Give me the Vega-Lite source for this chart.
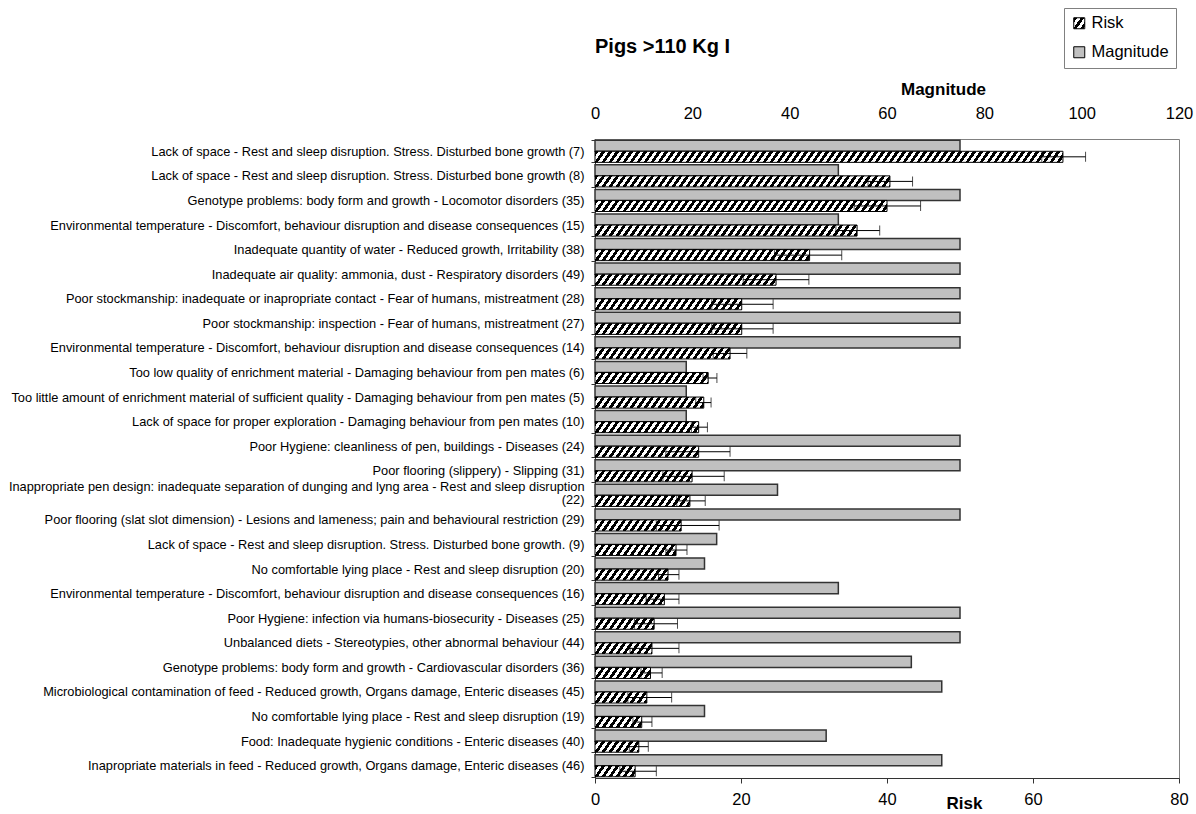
{
"$schema": "https://vega.github.io/schema/vega-lite/v6.json",
"width": 584,
"height": 639,
"autosize": "none",
"padding": {"left": 595, "top": 139, "right": 17, "bottom": 36},
"background": "#ffffff",
"params": [{"name": "hatchStops", "value": [
{"offset":0,"color":"#000"},{"offset":0.00625,"color":"#000"},{"offset":0.00625,"color":"#fff"},{"offset":0.0125,"color":"#fff"},
{"offset":0.0125,"color":"#000"},{"offset":0.01875,"color":"#000"},{"offset":0.01875,"color":"#fff"},{"offset":0.025,"color":"#fff"},
{"offset":0.025,"color":"#000"},{"offset":0.03125,"color":"#000"},{"offset":0.03125,"color":"#fff"},{"offset":0.0375,"color":"#fff"},
{"offset":0.0375,"color":"#000"},{"offset":0.04375,"color":"#000"},{"offset":0.04375,"color":"#fff"},{"offset":0.05,"color":"#fff"},
{"offset":0.05,"color":"#000"},{"offset":0.05625,"color":"#000"},{"offset":0.05625,"color":"#fff"},{"offset":0.0625,"color":"#fff"},
{"offset":0.0625,"color":"#000"},{"offset":0.06875,"color":"#000"},{"offset":0.06875,"color":"#fff"},{"offset":0.075,"color":"#fff"},
{"offset":0.075,"color":"#000"},{"offset":0.08125,"color":"#000"},{"offset":0.08125,"color":"#fff"},{"offset":0.0875,"color":"#fff"},
{"offset":0.0875,"color":"#000"},{"offset":0.09375,"color":"#000"},{"offset":0.09375,"color":"#fff"},{"offset":0.1,"color":"#fff"},
{"offset":0.1,"color":"#000"},{"offset":0.10625,"color":"#000"},{"offset":0.10625,"color":"#fff"},{"offset":0.1125,"color":"#fff"},
{"offset":0.1125,"color":"#000"},{"offset":0.11875,"color":"#000"},{"offset":0.11875,"color":"#fff"},{"offset":0.125,"color":"#fff"},
{"offset":0.125,"color":"#000"},{"offset":0.13125,"color":"#000"},{"offset":0.13125,"color":"#fff"},{"offset":0.1375,"color":"#fff"},
{"offset":0.1375,"color":"#000"},{"offset":0.14375,"color":"#000"},{"offset":0.14375,"color":"#fff"},{"offset":0.15,"color":"#fff"},
{"offset":0.15,"color":"#000"},{"offset":0.15625,"color":"#000"},{"offset":0.15625,"color":"#fff"},{"offset":0.1625,"color":"#fff"},
{"offset":0.1625,"color":"#000"},{"offset":0.16875,"color":"#000"},{"offset":0.16875,"color":"#fff"},{"offset":0.175,"color":"#fff"},
{"offset":0.175,"color":"#000"},{"offset":0.18125,"color":"#000"},{"offset":0.18125,"color":"#fff"},{"offset":0.1875,"color":"#fff"},
{"offset":0.1875,"color":"#000"},{"offset":0.19375,"color":"#000"},{"offset":0.19375,"color":"#fff"},{"offset":0.2,"color":"#fff"},
{"offset":0.2,"color":"#000"},{"offset":0.20625,"color":"#000"},{"offset":0.20625,"color":"#fff"},{"offset":0.2125,"color":"#fff"},
{"offset":0.2125,"color":"#000"},{"offset":0.21875,"color":"#000"},{"offset":0.21875,"color":"#fff"},{"offset":0.225,"color":"#fff"},
{"offset":0.225,"color":"#000"},{"offset":0.23125,"color":"#000"},{"offset":0.23125,"color":"#fff"},{"offset":0.2375,"color":"#fff"},
{"offset":0.2375,"color":"#000"},{"offset":0.24375,"color":"#000"},{"offset":0.24375,"color":"#fff"},{"offset":0.25,"color":"#fff"},
{"offset":0.25,"color":"#000"},{"offset":0.25625,"color":"#000"},{"offset":0.25625,"color":"#fff"},{"offset":0.2625,"color":"#fff"},
{"offset":0.2625,"color":"#000"},{"offset":0.26875,"color":"#000"},{"offset":0.26875,"color":"#fff"},{"offset":0.275,"color":"#fff"},
{"offset":0.275,"color":"#000"},{"offset":0.28125,"color":"#000"},{"offset":0.28125,"color":"#fff"},{"offset":0.2875,"color":"#fff"},
{"offset":0.2875,"color":"#000"},{"offset":0.29375,"color":"#000"},{"offset":0.29375,"color":"#fff"},{"offset":0.3,"color":"#fff"},
{"offset":0.3,"color":"#000"},{"offset":0.30625,"color":"#000"},{"offset":0.30625,"color":"#fff"},{"offset":0.3125,"color":"#fff"},
{"offset":0.3125,"color":"#000"},{"offset":0.31875,"color":"#000"},{"offset":0.31875,"color":"#fff"},{"offset":0.325,"color":"#fff"},
{"offset":0.325,"color":"#000"},{"offset":0.33125,"color":"#000"},{"offset":0.33125,"color":"#fff"},{"offset":0.3375,"color":"#fff"},
{"offset":0.3375,"color":"#000"},{"offset":0.34375,"color":"#000"},{"offset":0.34375,"color":"#fff"},{"offset":0.35,"color":"#fff"},
{"offset":0.35,"color":"#000"},{"offset":0.35625,"color":"#000"},{"offset":0.35625,"color":"#fff"},{"offset":0.3625,"color":"#fff"},
{"offset":0.3625,"color":"#000"},{"offset":0.36875,"color":"#000"},{"offset":0.36875,"color":"#fff"},{"offset":0.375,"color":"#fff"},
{"offset":0.375,"color":"#000"},{"offset":0.38125,"color":"#000"},{"offset":0.38125,"color":"#fff"},{"offset":0.3875,"color":"#fff"},
{"offset":0.3875,"color":"#000"},{"offset":0.39375,"color":"#000"},{"offset":0.39375,"color":"#fff"},{"offset":0.4,"color":"#fff"},
{"offset":0.4,"color":"#000"},{"offset":0.40625,"color":"#000"},{"offset":0.40625,"color":"#fff"},{"offset":0.4125,"color":"#fff"},
{"offset":0.4125,"color":"#000"},{"offset":0.41875,"color":"#000"},{"offset":0.41875,"color":"#fff"},{"offset":0.425,"color":"#fff"},
{"offset":0.425,"color":"#000"},{"offset":0.43125,"color":"#000"},{"offset":0.43125,"color":"#fff"},{"offset":0.4375,"color":"#fff"},
{"offset":0.4375,"color":"#000"},{"offset":0.44375,"color":"#000"},{"offset":0.44375,"color":"#fff"},{"offset":0.45,"color":"#fff"},
{"offset":0.45,"color":"#000"},{"offset":0.45625,"color":"#000"},{"offset":0.45625,"color":"#fff"},{"offset":0.4625,"color":"#fff"},
{"offset":0.4625,"color":"#000"},{"offset":0.46875,"color":"#000"},{"offset":0.46875,"color":"#fff"},{"offset":0.475,"color":"#fff"},
{"offset":0.475,"color":"#000"},{"offset":0.48125,"color":"#000"},{"offset":0.48125,"color":"#fff"},{"offset":0.4875,"color":"#fff"},
{"offset":0.4875,"color":"#000"},{"offset":0.49375,"color":"#000"},{"offset":0.49375,"color":"#fff"},{"offset":0.5,"color":"#fff"},
{"offset":0.5,"color":"#000"},{"offset":0.50625,"color":"#000"},{"offset":0.50625,"color":"#fff"},{"offset":0.5125,"color":"#fff"},
{"offset":0.5125,"color":"#000"},{"offset":0.51875,"color":"#000"},{"offset":0.51875,"color":"#fff"},{"offset":0.525,"color":"#fff"},
{"offset":0.525,"color":"#000"},{"offset":0.53125,"color":"#000"},{"offset":0.53125,"color":"#fff"},{"offset":0.5375,"color":"#fff"},
{"offset":0.5375,"color":"#000"},{"offset":0.54375,"color":"#000"},{"offset":0.54375,"color":"#fff"},{"offset":0.55,"color":"#fff"},
{"offset":0.55,"color":"#000"},{"offset":0.55625,"color":"#000"},{"offset":0.55625,"color":"#fff"},{"offset":0.5625,"color":"#fff"},
{"offset":0.5625,"color":"#000"},{"offset":0.56875,"color":"#000"},{"offset":0.56875,"color":"#fff"},{"offset":0.575,"color":"#fff"},
{"offset":0.575,"color":"#000"},{"offset":0.58125,"color":"#000"},{"offset":0.58125,"color":"#fff"},{"offset":0.5875,"color":"#fff"},
{"offset":0.5875,"color":"#000"},{"offset":0.59375,"color":"#000"},{"offset":0.59375,"color":"#fff"},{"offset":0.6,"color":"#fff"},
{"offset":0.6,"color":"#000"},{"offset":0.60625,"color":"#000"},{"offset":0.60625,"color":"#fff"},{"offset":0.6125,"color":"#fff"},
{"offset":0.6125,"color":"#000"},{"offset":0.61875,"color":"#000"},{"offset":0.61875,"color":"#fff"},{"offset":0.625,"color":"#fff"},
{"offset":0.625,"color":"#000"},{"offset":0.63125,"color":"#000"},{"offset":0.63125,"color":"#fff"},{"offset":0.6375,"color":"#fff"},
{"offset":0.6375,"color":"#000"},{"offset":0.64375,"color":"#000"},{"offset":0.64375,"color":"#fff"},{"offset":0.65,"color":"#fff"},
{"offset":0.65,"color":"#000"},{"offset":0.65625,"color":"#000"},{"offset":0.65625,"color":"#fff"},{"offset":0.6625,"color":"#fff"},
{"offset":0.6625,"color":"#000"},{"offset":0.66875,"color":"#000"},{"offset":0.66875,"color":"#fff"},{"offset":0.675,"color":"#fff"},
{"offset":0.675,"color":"#000"},{"offset":0.68125,"color":"#000"},{"offset":0.68125,"color":"#fff"},{"offset":0.6875,"color":"#fff"},
{"offset":0.6875,"color":"#000"},{"offset":0.69375,"color":"#000"},{"offset":0.69375,"color":"#fff"},{"offset":0.7,"color":"#fff"},
{"offset":0.7,"color":"#000"},{"offset":0.70625,"color":"#000"},{"offset":0.70625,"color":"#fff"},{"offset":0.7125,"color":"#fff"},
{"offset":0.7125,"color":"#000"},{"offset":0.71875,"color":"#000"},{"offset":0.71875,"color":"#fff"},{"offset":0.725,"color":"#fff"},
{"offset":0.725,"color":"#000"},{"offset":0.73125,"color":"#000"},{"offset":0.73125,"color":"#fff"},{"offset":0.7375,"color":"#fff"},
{"offset":0.7375,"color":"#000"},{"offset":0.74375,"color":"#000"},{"offset":0.74375,"color":"#fff"},{"offset":0.75,"color":"#fff"},
{"offset":0.75,"color":"#000"},{"offset":0.75625,"color":"#000"},{"offset":0.75625,"color":"#fff"},{"offset":0.7625,"color":"#fff"},
{"offset":0.7625,"color":"#000"},{"offset":0.76875,"color":"#000"},{"offset":0.76875,"color":"#fff"},{"offset":0.775,"color":"#fff"},
{"offset":0.775,"color":"#000"},{"offset":0.78125,"color":"#000"},{"offset":0.78125,"color":"#fff"},{"offset":0.7875,"color":"#fff"},
{"offset":0.7875,"color":"#000"},{"offset":0.79375,"color":"#000"},{"offset":0.79375,"color":"#fff"},{"offset":0.8,"color":"#fff"},
{"offset":0.8,"color":"#000"},{"offset":0.80625,"color":"#000"},{"offset":0.80625,"color":"#fff"},{"offset":0.8125,"color":"#fff"},
{"offset":0.8125,"color":"#000"},{"offset":0.81875,"color":"#000"},{"offset":0.81875,"color":"#fff"},{"offset":0.825,"color":"#fff"},
{"offset":0.825,"color":"#000"},{"offset":0.83125,"color":"#000"},{"offset":0.83125,"color":"#fff"},{"offset":0.8375,"color":"#fff"},
{"offset":0.8375,"color":"#000"},{"offset":0.84375,"color":"#000"},{"offset":0.84375,"color":"#fff"},{"offset":0.85,"color":"#fff"},
{"offset":0.85,"color":"#000"},{"offset":0.85625,"color":"#000"},{"offset":0.85625,"color":"#fff"},{"offset":0.8625,"color":"#fff"},
{"offset":0.8625,"color":"#000"},{"offset":0.86875,"color":"#000"},{"offset":0.86875,"color":"#fff"},{"offset":0.875,"color":"#fff"},
{"offset":0.875,"color":"#000"},{"offset":0.88125,"color":"#000"},{"offset":0.88125,"color":"#fff"},{"offset":0.8875,"color":"#fff"},
{"offset":0.8875,"color":"#000"},{"offset":0.89375,"color":"#000"},{"offset":0.89375,"color":"#fff"},{"offset":0.9,"color":"#fff"},
{"offset":0.9,"color":"#000"},{"offset":0.90625,"color":"#000"},{"offset":0.90625,"color":"#fff"},{"offset":0.9125,"color":"#fff"},
{"offset":0.9125,"color":"#000"},{"offset":0.91875,"color":"#000"},{"offset":0.91875,"color":"#fff"},{"offset":0.925,"color":"#fff"},
{"offset":0.925,"color":"#000"},{"offset":0.93125,"color":"#000"},{"offset":0.93125,"color":"#fff"},{"offset":0.9375,"color":"#fff"},
{"offset":0.9375,"color":"#000"},{"offset":0.94375,"color":"#000"},{"offset":0.94375,"color":"#fff"},{"offset":0.95,"color":"#fff"},
{"offset":0.95,"color":"#000"},{"offset":0.95625,"color":"#000"},{"offset":0.95625,"color":"#fff"},{"offset":0.9625,"color":"#fff"},
{"offset":0.9625,"color":"#000"},{"offset":0.96875,"color":"#000"},{"offset":0.96875,"color":"#fff"},{"offset":0.975,"color":"#fff"},
{"offset":0.975,"color":"#000"},{"offset":0.98125,"color":"#000"},{"offset":0.98125,"color":"#fff"},{"offset":0.9875,"color":"#fff"},
{"offset":0.9875,"color":"#000"},{"offset":0.99375,"color":"#000"},{"offset":0.99375,"color":"#fff"},{"offset":1,"color":"#fff"}
]}],
"title": {"text": "Pigs >110 Kg I", "anchor": "start", "frame": "group", "fontSize": 20, "fontWeight": "bold", "font": "Liberation Sans", "color": "#000000", "offset": 20, "dy": 69},
"data": {"values": [
{"issue":"Lack of space - Rest and sleep disruption. Stress. Disturbed bone growth (7)","series":"Magnitude","value":75},
{"issue":"Lack of space - Rest and sleep disruption. Stress. Disturbed bone growth (7)","series":"Risk","value":64.1,"lower":61.2,"upper":67.2},
{"issue":"Lack of space - Rest and sleep disruption. Stress. Disturbed bone growth (8)","series":"Magnitude","value":50},
{"issue":"Lack of space - Rest and sleep disruption. Stress. Disturbed bone growth (8)","series":"Risk","value":40.4,"lower":37.4,"upper":43.5},
{"issue":"Genotype problems: body form and growth - Locomotor disorders (35)","series":"Magnitude","value":75},
{"issue":"Genotype problems: body form and growth - Locomotor disorders (35)","series":"Risk","value":40.0,"lower":35.5,"upper":44.6},
{"issue":"Environmental temperature - Discomfort, behaviour disruption and disease consequences (15)","series":"Magnitude","value":50},
{"issue":"Environmental temperature - Discomfort, behaviour disruption and disease consequences (15)","series":"Risk","value":35.9,"lower":33.0,"upper":39.0},
{"issue":"Inadequate quantity of water - Reduced growth, Irritability (38)","series":"Magnitude","value":75},
{"issue":"Inadequate quantity of water - Reduced growth, Irritability (38)","series":"Risk","value":29.4,"lower":24.6,"upper":33.8},
{"issue":"Inadequate air quality: ammonia, dust - Respiratory disorders (49)","series":"Magnitude","value":75},
{"issue":"Inadequate air quality: ammonia, dust - Respiratory disorders (49)","series":"Risk","value":24.8,"lower":20.3,"upper":29.3},
{"issue":"Poor stockmanship: inadequate or inapropriate contact - Fear of humans, mistreatment (28)","series":"Magnitude","value":75},
{"issue":"Poor stockmanship: inadequate or inapropriate contact - Fear of humans, mistreatment (28)","series":"Risk","value":20.1,"lower":16.0,"upper":24.4},
{"issue":"Poor stockmanship: inspection - Fear of humans, mistreatment (27)","series":"Magnitude","value":75},
{"issue":"Poor stockmanship: inspection - Fear of humans, mistreatment (27)","series":"Risk","value":20.1,"lower":16.0,"upper":24.4},
{"issue":"Environmental temperature - Discomfort, behaviour disruption and disease consequences (14)","series":"Magnitude","value":75},
{"issue":"Environmental temperature - Discomfort, behaviour disruption and disease consequences (14)","series":"Risk","value":18.5,"lower":16.2,"upper":20.8},
{"issue":"Too low quality of enrichment material - Damaging behaviour from pen mates (6)","series":"Magnitude","value":18.75},
{"issue":"Too low quality of enrichment material - Damaging behaviour from pen mates (6)","series":"Risk","value":15.5,"lower":14.8,"upper":16.7},
{"issue":"Too little amount of enrichment material of sufficient quality - Damaging behaviour from pen mates (5)","series":"Magnitude","value":18.75},
{"issue":"Too little amount of enrichment material of sufficient quality - Damaging behaviour from pen mates (5)","series":"Risk","value":14.9,"lower":13.8,"upper":15.9},
{"issue":"Lack of space for proper exploration - Damaging behaviour from pen mates (10)","series":"Magnitude","value":18.75},
{"issue":"Lack of space for proper exploration - Damaging behaviour from pen mates (10)","series":"Risk","value":14.2,"lower":13.2,"upper":15.4},
{"issue":"Poor Hygiene: cleanliness of pen, buildings - Diseases  (24)","series":"Magnitude","value":75},
{"issue":"Poor Hygiene: cleanliness of pen, buildings - Diseases  (24)","series":"Risk","value":14.2,"lower":9.7,"upper":18.5},
{"issue":"Poor flooring (slippery) - Slipping (31)","series":"Magnitude","value":75},
{"issue":"Poor flooring (slippery) - Slipping (31)","series":"Risk","value":13.3,"lower":9.3,"upper":17.7},
{"issue":"Inappropriate pen design: inadequate separation of dunging and lyng area - Rest and sleep disruption (22)","series":"Magnitude","value":37.5},
{"issue":"Inappropriate pen design: inadequate separation of dunging and lyng area - Rest and sleep disruption (22)","series":"Risk","value":13.0,"lower":11.2,"upper":15.1},
{"issue":"Poor flooring (slat slot dimension) - Lesions and lameness; pain and behavioural restriction (29)","series":"Magnitude","value":75},
{"issue":"Poor flooring (slat slot dimension) - Lesions and lameness; pain and behavioural restriction (29)","series":"Risk","value":11.8,"lower":8.4,"upper":17.0},
{"issue":"Lack of space - Rest and sleep disruption. Stress. Disturbed bone growth. (9)","series":"Magnitude","value":25},
{"issue":"Lack of space - Rest and sleep disruption. Stress. Disturbed bone growth. (9)","series":"Risk","value":11.1,"lower":9.7,"upper":12.6},
{"issue":"No comfortable lying place - Rest and sleep disruption (20)","series":"Magnitude","value":22.5},
{"issue":"No comfortable lying place - Rest and sleep disruption (20)","series":"Risk","value":10.0,"lower":8.7,"upper":11.5},
{"issue":"Environmental temperature - Discomfort, behaviour disruption and disease consequences (16)","series":"Magnitude","value":50},
{"issue":"Environmental temperature - Discomfort, behaviour disruption and disease consequences (16)","series":"Risk","value":9.5,"lower":7.0,"upper":11.5},
{"issue":"Poor Hygiene: infection via humans-biosecurity - Diseases  (25)","series":"Magnitude","value":75},
{"issue":"Poor Hygiene: infection via humans-biosecurity - Diseases  (25)","series":"Risk","value":8.1,"lower":5.4,"upper":11.3},
{"issue":"Unbalanced diets - Stereotypies, other abnormal behaviour (44)","series":"Magnitude","value":75},
{"issue":"Unbalanced diets - Stereotypies, other abnormal behaviour (44)","series":"Risk","value":7.8,"lower":4.8,"upper":11.5},
{"issue":"Genotype problems: body form and growth - Cardiovascular disorders (36)","series":"Magnitude","value":65},
{"issue":"Genotype problems: body form and growth - Cardiovascular disorders (36)","series":"Risk","value":7.6,"lower":6.3,"upper":9.2},
{"issue":"Microbiological contamination of feed - Reduced growth, Organs damage, Enteric diseases (45)","series":"Magnitude","value":71.25},
{"issue":"Microbiological contamination of feed - Reduced growth, Organs damage, Enteric diseases (45)","series":"Risk","value":7.1,"lower":4.5,"upper":10.5},
{"issue":"No comfortable lying place - Rest and sleep disruption (19)","series":"Magnitude","value":22.5},
{"issue":"No comfortable lying place - Rest and sleep disruption (19)","series":"Risk","value":6.4,"lower":5.2,"upper":7.8},
{"issue":"Food: Inadequate hygienic conditions - Enteric diseases (40)","series":"Magnitude","value":47.5},
{"issue":"Food: Inadequate hygienic conditions - Enteric diseases (40)","series":"Risk","value":6.0,"lower":4.7,"upper":7.3},
{"issue":"Inapropriate materials in feed - Reduced growth, Organs damage, Enteric diseases (46)","series":"Magnitude","value":71.25},
{"issue":"Inapropriate materials in feed - Reduced growth, Organs damage, Enteric diseases (46)","series":"Risk","value":5.5,"lower":3.4,"upper":8.4}
]},
"encoding": {
  "y": {"field": "issue", "type": "nominal", "sort": null,
        "scale": {"paddingInner": 0.1, "paddingOuter": 0.05},
        "axis": {"title": null, "labelFontSize": 12.8, "labelFont": "Liberation Sans", "labelColor": "#000000", "labelLimit": 1000, "labelPadding": 7, "tickBand": "extent", "tickSize": 4, "tickColor": "#333333", "domainColor": "#333333", "labelLineHeight": 13,
                 "labelOffset": {"condition": {"test": "indexof(datum.label, '(22)') >= 0", "value": -9}, "value": 0},
                 "labelExpr": "indexof(datum.label, '(22)') >= 0 ? [replace(datum.label, ' (22)', ''), '(22)'] : datum.label"}},
  "yOffset": {"field": "series", "type": "nominal", "scale": {"domain": ["Magnitude", "Risk"], "paddingInner": 0, "paddingOuter": 0}}
},
"layer": [
  {"transform": [{"filter": "datum.series == 'Magnitude'"}],
   "mark": {"type": "bar", "stroke": "#333333", "strokeWidth": 1.5},
   "encoding": {
     "x": {"field": "value", "type": "quantitative", "stack": null,
           "scale": {"domain": [0, 120], "nice": false},
           "axis": {"orient": "top", "values": [0, 20, 40, 60, 80, 100, 120], "title": "Magnitude", "titleFontSize": 17, "titleFontWeight": "bold", "titleColor": "#000000", "titleX": 348, "titleY": -50, "titleBaseline": "middle", "titleAlign": "center", "labelFontSize": 16.5, "labelColor": "#000000", "labelFlush": false, "labelPadding": 18, "ticks": false, "tickSize": 0, "domain": false, "grid": false}},
     "color": {"field": "series", "type": "nominal",
               "scale": {"domain": ["Risk", "Magnitude"], "range": [{"expr": "{gradient: 'linear', x1: 0, y1: 0, x2: 34.2, y2: 24, stops: hatchStops}"}, "#c0c0c0"]},
               "legend": {"orient": "none", "legendX": 469, "legendY": -131, "direction": "vertical", "title": null, "symbolType": "square", "symbolSize": 121, "symbolStrokeColor": "#000000", "symbolStrokeWidth": 1, "symbolOpacity": 1, "labelFontSize": 16.5, "labelFont": "Liberation Sans", "labelColor": "#000000", "labelOffset": 4, "strokeColor": "#808080", "fillColor": "#ffffff", "padding": 7, "rowPadding": 12}}
   }},
  {"transform": [{"filter": "datum.series == 'Risk'"}],
   "layer": [
     {"mark": {"type": "bar", "stroke": "#000000", "strokeWidth": 1,
               "fill": {"expr": "{gradient: 'linear', x1: 0, y1: 0, x2: 560 / (datum.value * 7.3 + 59.9 / (datum.value * 7.3)), y2: 560 / (datum.value * 7.3 + 59.9 / (datum.value * 7.3)) * 7.74 / (datum.value * 7.3), stops: hatchStops}"}},
      "encoding": {
        "x": {"field": "value", "type": "quantitative", "stack": null,
              "scale": {"domain": [0, 80], "nice": false},
              "axis": {"orient": "bottom", "values": [0, 20, 40, 60, 80], "title": "Risk", "titleFontSize": 17, "titleFontWeight": "bold", "titleColor": "#000000", "titleX": 369, "titleY": 25, "titleBaseline": "middle", "titleAlign": "center", "labelFontSize": 16.5, "labelColor": "#000000", "labelFlush": false, "labelPadding": 8, "tickSize": 5, "tickColor": "#333333", "domainColor": "#333333", "grid": false}}
      }},
     {"mark": {"type": "rule", "color": "#000000", "strokeWidth": 1},
      "encoding": {
        "x": {"field": "lower", "type": "quantitative", "scale": {"domain": [0, 80], "nice": false}},
        "x2": {"field": "upper"}
      }},
     {"mark": {"type": "tick", "color": "#000000", "thickness": 1, "size": 10},
      "encoding": {
        "x": {"field": "lower", "type": "quantitative", "scale": {"domain": [0, 80], "nice": false}}
      }},
     {"mark": {"type": "tick", "color": "#000000", "thickness": 1, "size": 10},
      "encoding": {
        "x": {"field": "upper", "type": "quantitative", "scale": {"domain": [0, 80], "nice": false}}
      }}
   ]}
],
"resolve": {"scale": {"x": "independent"}},
"config": {
  "font": "Liberation Sans",
  "view": {"stroke": "#808080", "strokeWidth": 1},
  "axis": {"labelFont": "Liberation Sans", "titleFont": "Liberation Sans"}
}
}
